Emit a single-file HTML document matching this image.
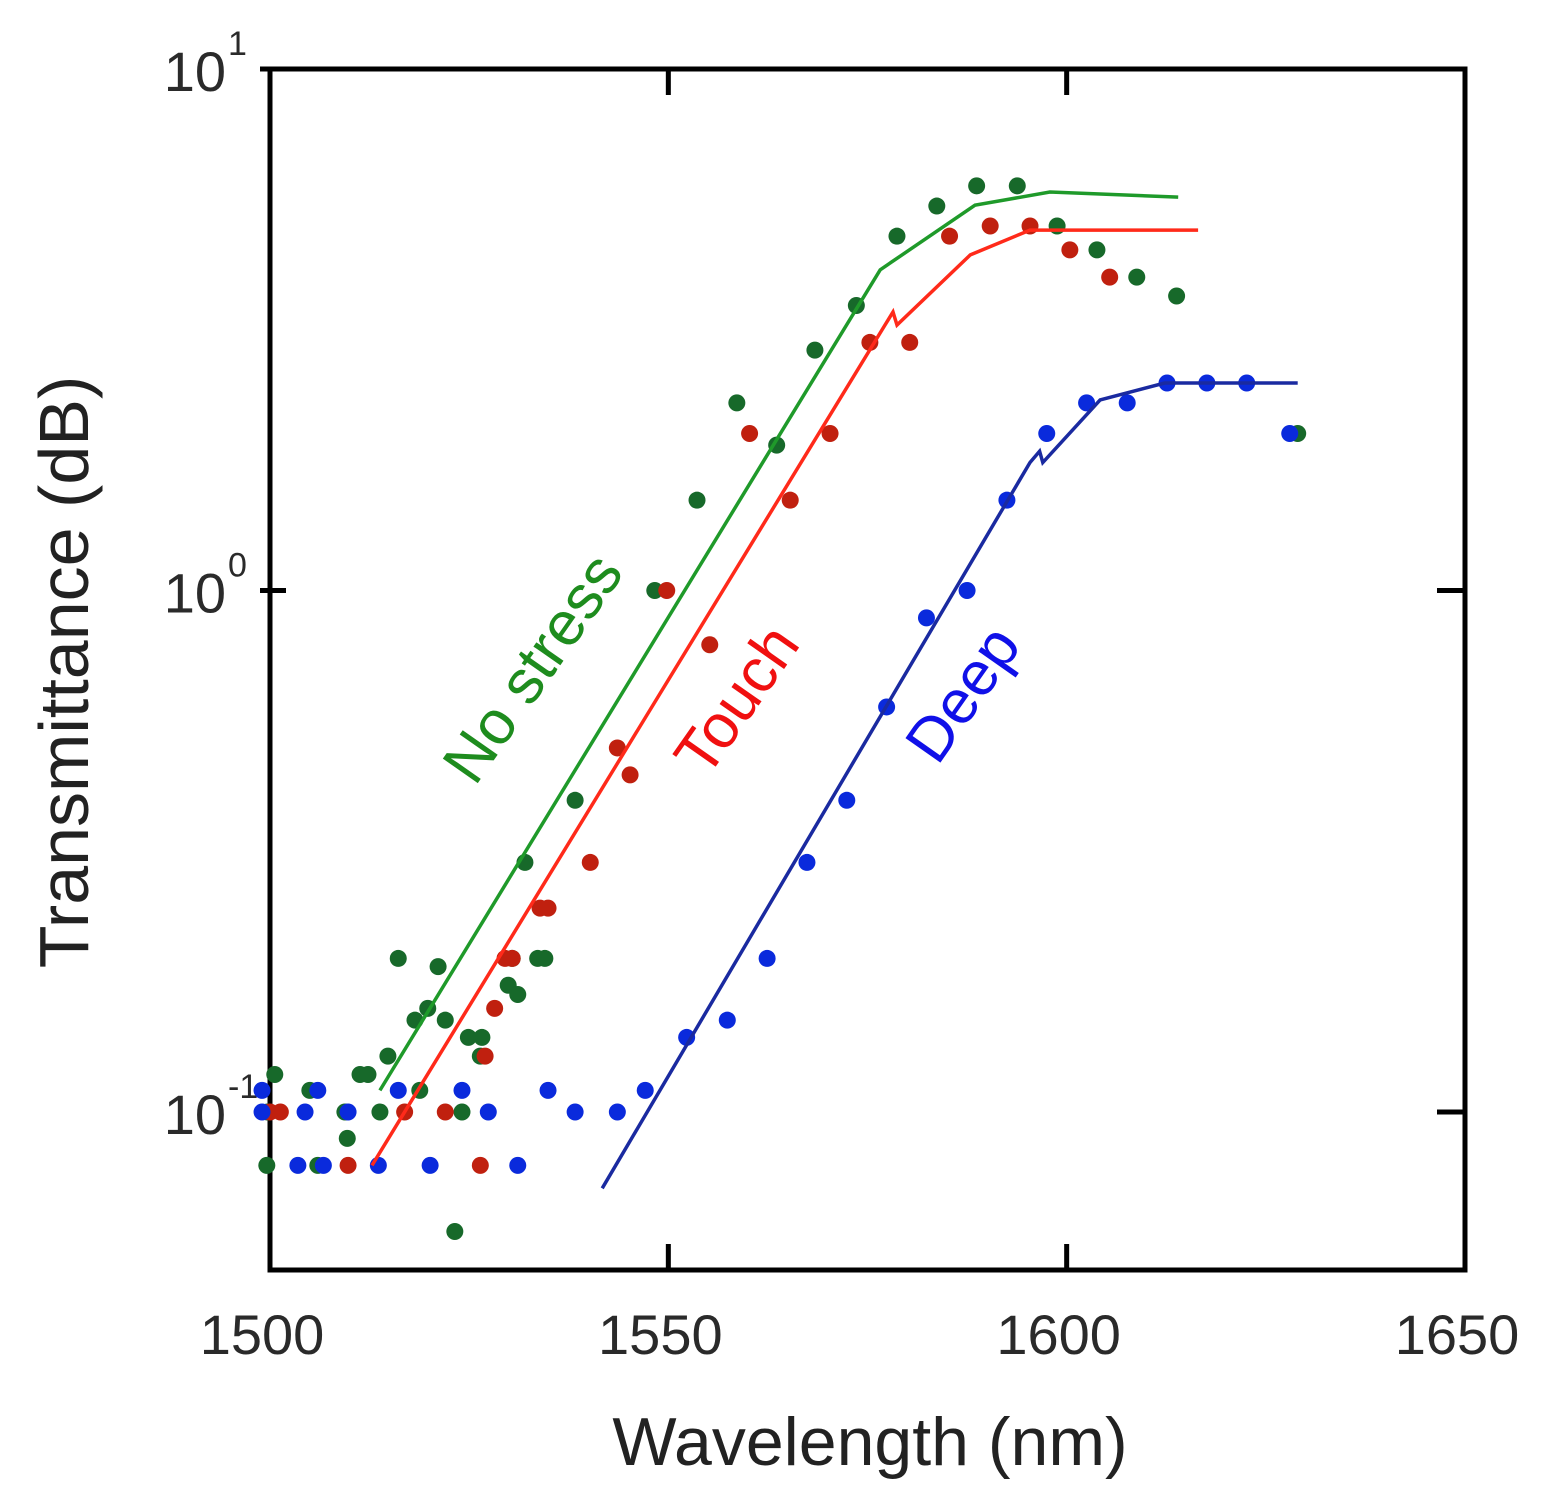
<!DOCTYPE html>
<html><head><meta charset="utf-8"><style>
html,body{margin:0;padding:0;background:#fff;}
svg{display:block;font-family:"Liberation Sans",sans-serif;}
</style></head><body>
<svg id="chart" width="1548" height="1508" viewBox="0 0 1548 1508" xmlns="http://www.w3.org/2000/svg">
<g id="axes"></g>
<g id="marks"></g>
<text x="0" y="0" transform="translate(88,672) rotate(-90)" text-anchor="middle" font-size="70" fill="#222">Transmittance (dB)</text>
<text x="870" y="1465" text-anchor="middle" font-size="68" fill="#222">Wavelength (nm)</text>
<text transform="translate(550,680) rotate(-55)" text-anchor="middle" font-size="62" fill="#1e8c1e">No stress</text>
<text transform="translate(754,712) rotate(-55)" text-anchor="middle" font-size="62" fill="#f01010">Touch</text>
<text transform="translate(980,706) rotate(-55)" text-anchor="middle" font-size="62" fill="#1010e8">Deep</text>
</svg>
<script>
const xTicks=[1500,1550,1600,1650];
const yTickExp=[1,0,-1];
const greenWl=[1499.7,1500.6,1499.6,1505.0,1506.0,1509.4,1509.7,1511.3,1512.3,1513.8,1514.8,1516.1,1518.2,1518.8,1519.8,1521.1,1522.0,1523.2,1524.1,1524.9,1526.6,1526.4,1529.9,1530.4,1531.1,1532.0,1533.6,1534.5,1538.3,1548.3,1553.6,1558.6,1563.6,1568.4,1573.6,1578.7,1583.7,1588.7,1593.8,1598.8,1603.8,1608.8,1613.8,1629.0];
const greenVal=[0.1,0.118,0.079,0.110,0.079,0.1,0.089,0.118,0.118,0.1,0.128,0.197,0.150,0.110,0.158,0.190,0.150,0.059,0.1,0.139,0.139,0.128,0.175,0.197,0.168,0.301,0.197,0.197,0.396,1.0,1.49,2.29,1.90,2.89,3.52,4.78,5.46,5.97,5.97,5.00,4.50,3.99,3.67,2.00];
const redWl=[1500.0,1501.3,1509.8,1516.9,1522.0,1526.4,1527.0,1528.2,1529.5,1530.4,1533.9,1534.9,1540.2,1543.6,1545.2,1549.8,1555.2,1560.2,1565.3,1570.3,1575.3,1580.3,1585.3,1590.4,1595.4,1600.4,1605.4];
const redVal=[0.1,0.1,0.079,0.1,0.1,0.079,0.128,0.158,0.197,0.197,0.246,0.246,0.301,0.499,0.443,1.0,0.787,2.0,1.49,2.0,2.99,2.99,4.78,5.0,5.0,4.5,3.99];
const blueWl=[1499.0,1499.0,1503.5,1504.4,1506.0,1506.7,1509.8,1513.6,1516.1,1520.1,1524.1,1527.4,1531.1,1534.9,1538.3,1543.6,1547.1,1552.3,1557.4,1562.4,1567.4,1572.4,1577.4,1582.4,1587.5,1592.5,1597.5,1602.5,1607.6,1612.6,1617.6,1622.6,1628.0];
const blueVal=[0.110,0.1,0.079,0.1,0.110,0.079,0.1,0.079,0.110,0.079,0.110,0.1,0.079,0.110,0.1,0.1,0.110,0.139,0.150,0.197,0.301,0.396,0.598,0.886,1.0,1.49,2.0,2.29,2.29,2.50,2.50,2.50,2.00];
const greenLineWl=[1513.8,1576.6,1588.5,1597.9,1614.0];
const greenLineVal=[0.110,4.12,5.48,5.81,5.68];
const redLineWl=[1512.8,1577.2,1578.2,1578.7,1587.9,1595.4,1616.5];
const redLineVal=[0.079,3.23,3.42,3.23,4.40,4.91,4.91];
const blueLineWl=[1541.7,1595.4,1596.6,1597.0,1604.2,1612.3,1629.0];
const blueLineVal=[0.0714,1.76,1.85,1.76,2.32,2.50,2.50];

const L=270,R=1465,T=69,B=1270;
const X=v=>L+(v-1500)*(R-L)/150;
const Y=v=>T+(1-Math.log10(v))*521.5;
const NS="http://www.w3.org/2000/svg";
const axes=document.getElementById('axes'), marks=document.getElementById('marks');
function mk(tag,attrs,parent){const e=document.createElementNS(NS,tag);for(const k in attrs)e.setAttribute(k,attrs[k]);parent.appendChild(e);return e;}

const frame=mk('rect',{x:L,y:T,width:R-L,height:B-T,fill:'none',stroke:'#000','stroke-width':5},axes);


xTicks.forEach(t=>{
  const x=X(t);
  const tk=mk('path',{d:`M${x},${B} v-26 M${x},${T} v26`,stroke:'#000','stroke-width':5},axes);
  
  
  const lb=mk('text',{x:x-8,y:1354,'text-anchor':'middle','font-size':56,fill:'#2a2a2a'},axes);
  lb.textContent=String(t);
  
  
});
yTickExp.forEach(e=>{
  const y=Y(Math.pow(10,e));
  const tk=mk('path',{d:`M${L-10},${y} h26 M${R},${y} h-28`,stroke:'#000','stroke-width':5},axes);
  
  
  const lb=mk('text',{x:226,y:y+22,'text-anchor':'end','font-size':56,fill:'#2a2a2a'},axes);
  lb.textContent='10';
  
  
  const sp=mk('text',{x:228,y:y-14,'font-size':34,fill:'#2a2a2a'},axes);
  sp.textContent=String(e);
  
  
});
function line(wl,val,color,name){
  const d=wl.map((w,i)=>(i?'L':'M')+X(w).toFixed(1)+','+Y(val[i]).toFixed(1)).join(' ');
  const p=mk('path',{d:d,fill:'none',stroke:color,'stroke-width':3.5},marks);
  
  
}
function dots(wl,val,color,name){
  wl.forEach((w,i)=>{
    const c=mk('circle',{cx:X(w),cy:Y(val[i]),r:8.5,fill:color},marks);
    
    
  });
}
dots(greenWl,greenVal,'#17692a','no-stress-point');
dots(redWl,redVal,'#c0200f','touch-point');
dots(blueWl,blueVal,'#0a2adc','deep-point');
line(greenLineWl,greenLineVal,'#1f9a2a','no-stress-fit-line');
line(redLineWl,redLineVal,'#ff2a1a','touch-fit-line');
line(blueLineWl,blueLineVal,'#1a2aa0','deep-fit-line');
</script>
</body></html>
